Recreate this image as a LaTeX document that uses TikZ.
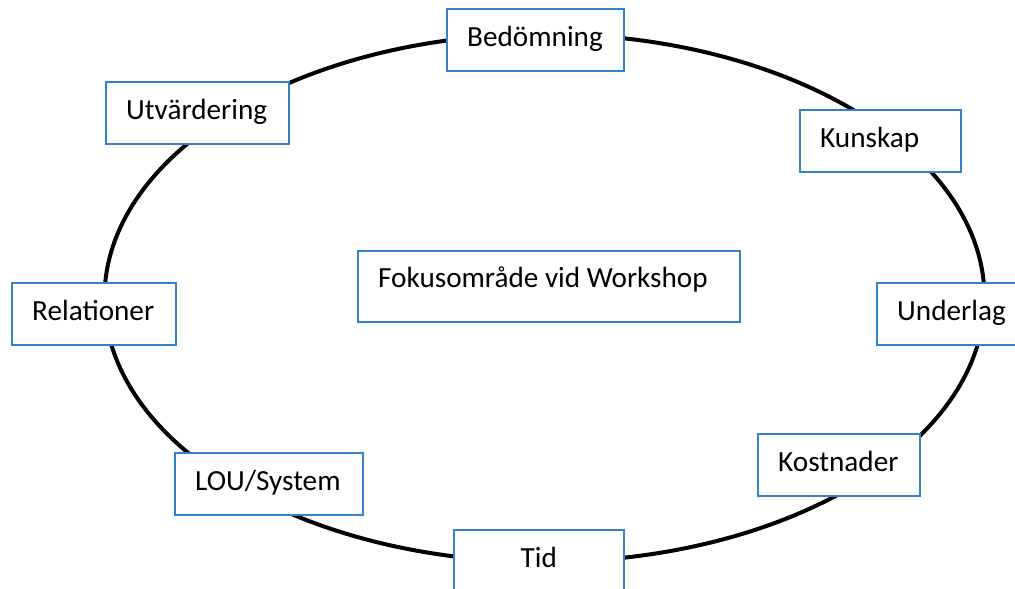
\documentclass[tikz,border=0pt]{standalone}
\usepackage{fontspec}
\setmainfont{Carlito}
\usetikzlibrary{calc}
\definecolor{boxblue}{RGB}{52,130,204}
\tikzset{
  box/.style={draw=boxblue, line width=1.5pt, fill=white, rectangle, anchor=north west, inner sep=0pt, minimum height=62pt},
  lbl/.style={anchor=base west, inner sep=0pt, font=\fontsize{29.2}{35}\selectfont, text=black},
  ring/.style={draw=black, line width=4pt}
}
\begin{document}
\begin{tikzpicture}[x=1pt,y=-1pt]
\useasboundingbox (0,0) rectangle (1015,589);
\clip (0,0) rectangle (1015,589);
\fill[white] (0,0) rectangle (1015,589);
% ellipse
\coordinate (c) at (544.5,298);
\draw[ring] (c) ellipse [x radius=440pt, y radius=264pt];
% boxes
\node[box, minimum width=177pt] (bed) at (446,8) {};
\node[lbl] (tbed) at ($(bed.north west)+(21,38)$) {Bedömning};
\node[box, minimum width=183pt] (utv) at (105,81) {};
\node[lbl] (tutv) at ($(utv.north west)+(21,38)$) {Utvärdering};
\node[box, minimum width=161pt] (kun) at (799,109) {};
\node[lbl] (tkun) at ($(kun.north west)+(21,38)$) {Kunskap};
\node[box, minimum width=382pt, minimum height=71pt] (fok) at (357,250) {};
\node[lbl] (tfok) at ($(fok.north west)+(21,37)$) {Fokusområde vid Workshop};
\node[box, minimum width=164pt] (rel) at (11,282) {};
\node[lbl] (trel) at ($(rel.north west)+(21,38)$) {Relationer};
\node[box, minimum width=170pt] (und) at (876,282) {};
\node[lbl] (tund) at ($(und.north west)+(21,38)$) {Underlag};
\node[box, minimum width=162pt] (kos) at (757,433) {};
\node[lbl] (tkos) at ($(kos.north west)+(21,38)$) {Kostnader};
\node[box, minimum width=188pt] (lou) at (174,452) {};
\node[lbl] (tlou) at ($(lou.north west)+(21,38)$) {LOU/System};
\node[box, minimum width=170pt] (tid) at (453,529) {};
\node[lbl, anchor=base] (ttid) at ($(tid.north)+(0,38)$) {Tid};
\end{tikzpicture}
\end{document}
